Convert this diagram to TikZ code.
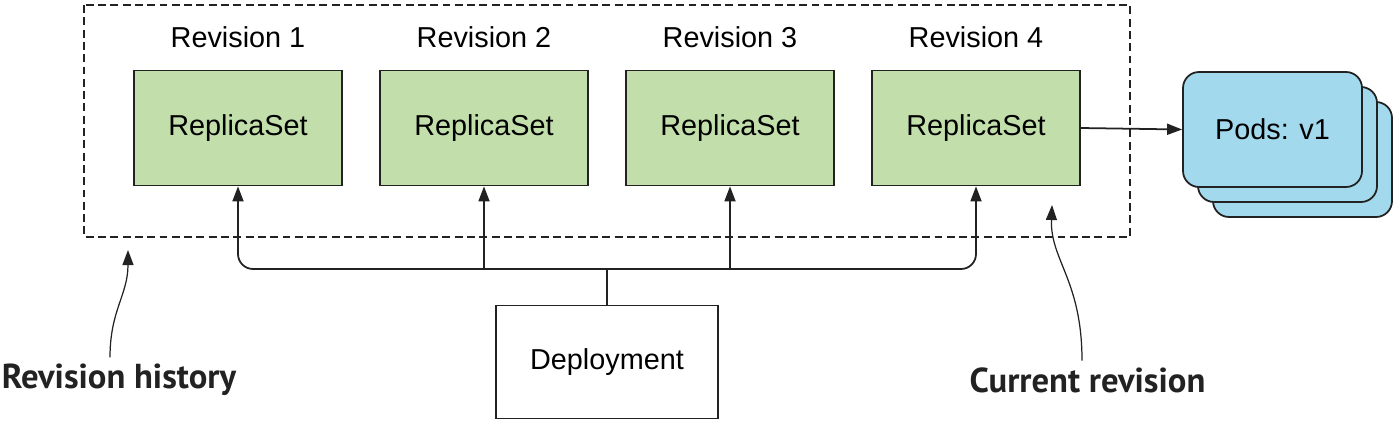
\documentclass[tikz,border=0pt]{standalone}
\usepackage{fontspec}
\setmainfont{Liberation Sans}
\newfontfamily\notefont{PT Sans}
\usetikzlibrary{arrows.meta,calc}
\definecolor{RSGreen}{HTML}{C2DEAA}
\definecolor{PodBlue}{HTML}{A3D9EC}
\definecolor{LineDark}{HTML}{222222}

\tikzset{
  rsbox/.style={draw=LineDark,fill=RSGreen,line width=1pt,minimum width=4.16cm,minimum height=2.3cm},
  podbox/.style={draw=LineDark,fill=PodBlue,line width=1pt,rounded corners=0.32cm,minimum width=3.58cm,minimum height=2.3cm},
  note/.style={font=\notefont\bfseries\fontsize{19.7}{22}\selectfont,text=LineDark}
}

\begin{document}
\begin{tikzpicture}[>={Triangle[length=3mm,width=2.2mm]},font=\fontsize{16.4}{19}\selectfont,
  line width=1pt,draw=LineDark]
  \useasboundingbox (0,0) rectangle (27.92,-8.48);
  \draw[LineDark,line width=1pt,dash pattern=on 4.5pt off 2.5pt] (1.68,-0.1) rectangle (22.6,-4.74);
  % replica sets, one per revision
  \foreach \i/\x in {1/4.76,2/9.68,3/14.6,4/19.52}{
    \node[rsbox] (rs\i) at (\x,-2.56) {ReplicaSet};
    \node (rev\i) at (\x,-0.74) {Revision \i};
  }
  % stacked pods
  \node[podbox] (pods3) at (26.05,-3.19) {};
  \node[podbox] (pods2) at (25.75,-2.89) {};
  \node[podbox] (pods) at (25.45,-2.59) {Pods: v1};
  \draw[->,LineDark] (rs4.east) -- (pods.west);
  \node[draw=LineDark,line width=1pt,minimum width=4.44cm,minimum height=2.26cm] (dep) at (12.14,-7.24) {Deployment};
  \coordinate (bus) at (0,-5.38);
  \draw[LineDark] (dep.north) -- (dep.north |- bus);
  \draw[->,LineDark,rounded corners=0.3cm] (dep.north |- bus) -| (rs1.south);
  \draw[->,LineDark,rounded corners=0.3cm] (dep.north |- bus) -| (rs4.south);
  \draw[->,LineDark] (rs2.south |- bus) -- (rs2.south);
  \draw[->,LineDark] (rs3.south |- bus) -- (rs3.south);
  % annotations
  \node[note] (hist) at (2.38,-7.6) {Revision history};
  \node[note] (curr) at (21.75,-7.6) {Current revision};
  \coordinate (histtip) at (2.56,-5.0);
  \coordinate (currtip) at (21.04,-4.1);
  \draw[->,LineDark,line width=0.7pt] (hist.north -| 2.2,0) .. controls (2.2,-6.2) and (2.56,-5.9) .. (histtip);
  \draw[->,LineDark,line width=0.7pt] (curr.north -| 21.64,0) .. controls (21.64,-5.6) and (21.0,-5.2) .. (currtip);
\end{tikzpicture}
\end{document}
